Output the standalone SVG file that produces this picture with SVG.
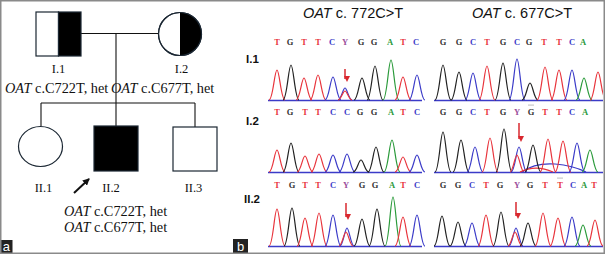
<svg xmlns="http://www.w3.org/2000/svg" width="605" height="255" viewBox="0 0 605 255">
<style>
.ped{stroke:#1b2733;stroke-width:1.2}
.ln{stroke:#111;stroke-width:1.1;fill:none}
.pt{font-family:"Liberation Serif","Times New Roman",serif;font-size:14.3px;fill:#111}
.pl{font-family:"Liberation Serif","Times New Roman",serif;font-size:12.5px;fill:#111;text-anchor:middle}
.tt{font-family:"Liberation Sans",Arial,sans-serif;font-size:14.5px;fill:#111}
.rl{font-family:"Liberation Sans",Arial,sans-serif;font-size:11.5px;font-weight:bold;fill:#111}
.bs{font-family:"Liberation Serif","Times New Roman",serif;font-size:8.5px;font-weight:bold;text-anchor:middle}
.pk path{fill:none;stroke-width:1.2}
.T{stroke:#e8343c}.G{stroke:#222}.C{stroke:#3b3bc8}.A{stroke:#2a9a3a}
.fT{fill:#e8343c}.fG{fill:#333}.fC{fill:#3b3bc8}.fA{fill:#2a9a3a}.fY{fill:#9b4f9b}
.bl{stroke:#3b3bc8;stroke-width:1.3}
.arr{stroke:#d9282f;stroke-width:1.5;marker-end:url(#ah)}
.lab{font-family:"Liberation Sans",Arial,sans-serif;font-size:13px;fill:#fff;text-anchor:middle}
</style>
<defs>
<marker id="ah" markerWidth="6" markerHeight="6" refX="3" refY="5" orient="auto-start-reverse" markerUnits="userSpaceOnUse" viewBox="0 0 6 6">
<path d="M0 0L6 0L3 6Z" fill="#d9282f" transform="rotate(-90 3 3)"/>
</marker>
<marker id="bk" markerWidth="7" markerHeight="7" refX="6" refY="3.5" orient="auto" markerUnits="userSpaceOnUse">
<path d="M0 0L7 3.5L0 7Z" fill="#111"/>
</marker>
<clipPath id="cp"><rect x="0" y="0" width="603" height="253"/></clipPath>
</defs>
<rect width="605" height="255" fill="#fff"/>

<!-- Panel a: pedigree -->
<g id="connectors">
<line class="ln" x1="81" y1="33.5" x2="158" y2="33.5"/>
<line class="ln" x1="116" y1="33.5" x2="116" y2="126"/>
<line class="ln" x1="41" y1="103" x2="195" y2="103"/>
<line class="ln" x1="41" y1="103" x2="41" y2="126"/>
<line class="ln" x1="195" y1="103" x2="195" y2="127"/>
<line x1="74" y1="193" x2="89" y2="179" stroke="#111" stroke-width="2" marker-end="url(#bk)"/>
</g>
<g id="I1">
<rect x="36" y="12" width="22.5" height="44" fill="#fff" class="ped"/>
<rect x="58.5" y="12" width="22.5" height="44" fill="#000" class="ped"/>
<text class="pl" x="58.5" y="73">I.1</text>
<text class="pt" x="5" y="93"><tspan font-style="italic">OAT</tspan> c.C722T, het</text>
</g>
<g id="I2">
<circle cx="180" cy="34" r="21.5" fill="#fff" class="ped"/>
<path d="M180 12.5A21.5 21.5 0 0 1 180 55.5Z" fill="#000"/>
<circle cx="180" cy="34" r="21.5" fill="none" class="ped"/>
<text class="pl" x="181.5" y="73">I.2</text>
<text class="pt" x="111" y="93"><tspan font-style="italic">OAT</tspan> c.C677T, het</text>
</g>
<g id="II1">
<ellipse cx="40.5" cy="146.5" rx="22" ry="20" fill="#fff" class="ped"/>
<text class="pl" x="43.5" y="192">II.1</text>
</g>
<g id="II2">
<rect x="94" y="126" width="44" height="45" fill="#000" class="ped"/>
<text class="pl" x="111" y="192">II.2</text>
<text class="pt" x="115.5" y="215.5" text-anchor="middle"><tspan font-style="italic">OAT</tspan> c.C722T, het</text>
<text class="pt" x="115.5" y="231.5" text-anchor="middle"><tspan font-style="italic">OAT</tspan> c.C677T, het</text>
</g>
<g id="II3">
<rect x="173" y="127" width="44" height="44" fill="#fff" class="ped"/>
<text class="pl" x="193.5" y="192">II.3</text>
</g>

<!-- Panel b: chromatograms -->
<g id="titles">
<text class="tt" x="303" y="18"><tspan font-style="italic">OAT</tspan> c. 772C&gt;T</text>
<text class="tt" x="472" y="18"><tspan font-style="italic">OAT</tspan> c. 677C&gt;T</text>
<text class="rl" x="246" y="63">I.1</text>
<text class="rl" x="246" y="125">I.2</text>
<text class="rl" x="244" y="203">II.2</text>
</g>

<g id="bases">
<text class="bs" y="45"><tspan class="fT" x="277">T</tspan><tspan class="fG" x="290">G</tspan><tspan class="fT" x="304">T</tspan><tspan class="fT" x="318">T</tspan><tspan class="fC" x="332">C</tspan><tspan class="fY" x="345">Y</tspan><tspan class="fG" x="361">G</tspan><tspan class="fG" x="374">G</tspan><tspan class="fA" x="390">A</tspan><tspan class="fT" x="403">T</tspan><tspan class="fC" x="416">C</tspan></text>
<text class="bs" y="45"><tspan class="fG" x="443">G</tspan><tspan class="fG" x="459">G</tspan><tspan class="fC" x="473">C</tspan><tspan class="fT" x="487">T</tspan><tspan class="fG" x="503">G</tspan><tspan class="fC" x="517">C</tspan><tspan class="fG" x="529">G</tspan><tspan class="fT" x="544">T</tspan><tspan class="fT" x="559">T</tspan><tspan class="fC" x="572">C</tspan><tspan class="fA" x="583">A</tspan></text>
<text class="bs" y="115"><tspan class="fT" x="277">T</tspan><tspan class="fG" x="290">G</tspan><tspan class="fT" x="305">T</tspan><tspan class="fT" x="318">T</tspan><tspan class="fC" x="333">C</tspan><tspan class="fC" x="347">C</tspan><tspan class="fG" x="360">G</tspan><tspan class="fG" x="374">G</tspan><tspan class="fA" x="391">A</tspan><tspan class="fT" x="403">T</tspan><tspan class="fC" x="417">C</tspan></text>
<text class="bs" y="115"><tspan class="fG" x="443">G</tspan><tspan class="fG" x="459">G</tspan><tspan class="fC" x="473">C</tspan><tspan class="fT" x="487">T</tspan><tspan class="fG" x="503">G</tspan><tspan class="fY" x="517">Y</tspan><tspan class="fG" x="531">G</tspan><tspan class="fT" x="545">T</tspan><tspan class="fT" x="559">T</tspan><tspan class="fC" x="572">C</tspan><tspan class="fA" x="585">A</tspan></text>
<text class="bs" y="188"><tspan class="fT" x="277">T</tspan><tspan class="fG" x="292">G</tspan><tspan class="fT" x="305">T</tspan><tspan class="fT" x="318">T</tspan><tspan class="fC" x="333">C</tspan><tspan class="fY" x="346">Y</tspan><tspan class="fG" x="362">G</tspan><tspan class="fG" x="375">G</tspan><tspan class="fA" x="392">A</tspan><tspan class="fT" x="403">T</tspan><tspan class="fC" x="417">C</tspan></text>
<text class="bs" y="188"><tspan class="fG" x="443">G</tspan><tspan class="fG" x="458">G</tspan><tspan class="fC" x="472">C</tspan><tspan class="fT" x="486">T</tspan><tspan class="fG" x="500">G</tspan><tspan class="fY" x="517">Y</tspan><tspan class="fG" x="530">G</tspan><tspan class="fT" x="545">T</tspan><tspan class="fT" x="560">T</tspan><tspan class="fC" x="573">C</tspan><tspan class="fA" x="584">A</tspan><tspan class="fT" x="594">T</tspan></text>
<g fill="#555"><circle cx="529" cy="105" r="0.5"/><circle cx="531" cy="105" r="0.5"/><circle cx="533" cy="105" r="0.5"/><circle cx="558" cy="178" r="0.5"/><circle cx="560" cy="178" r="0.5"/><circle cx="562" cy="178" r="0.5"/></g>
</g>

<g id="traces" class="pk" clip-path="url(#cp)">
<line class="bl" x1="268" y1="100.5" x2="422" y2="100.5"/>
<line class="bl" x1="434" y1="100.5" x2="603" y2="100.5"/>
<line class="bl" x1="268" y1="172.5" x2="422" y2="172.5"/>
<line class="bl" x1="434" y1="172.5" x2="603" y2="172.5"/>
<line class="bl" x1="268" y1="246.5" x2="422" y2="246.5"/>
<line class="bl" x1="434" y1="246.5" x2="603" y2="246.5"/>
<!-- row 1 left -->
<path class="T" d="M269 100C273 100 274.5 70 277 70C279.5 70 281 100 285 100"/>
<path class="G" d="M283 100C287 100 288.5 65 291 65C293.5 65 295 100 299 100"/>
<path class="T" d="M296 100C300 100 301.5 78 304 78C306.5 78 308 100 312 100"/>
<path class="T" d="M310 100C314 100 315.5 75 318 75C320.5 75 322 100 326 100"/>
<path class="C" d="M325 100C329 100 330.5 77 333 77C335.5 77 337 100 341 100"/>
<path class="C" d="M338 100C341 100 343 88 345 88C347 88 349 100 352 100"/>
<path class="T" d="M338 100C341 100 343 91 345 91C347 91 349 100 352 100"/>
<path class="G" d="M354 100C358 100 359.5 78 362 78C364.5 78 366 100 370 100"/>
<path class="G" d="M367 100C371 100 372.5 66 375 66C377.5 66 379 100 383 100"/>
<path class="A" d="M383 100C387 100 388.5 60 391 60C393.5 60 395 100 399 100"/>
<path class="T" d="M395 100C399 100 400.5 77 403 77C405.5 77 407 100 411 100"/>
<path class="C" d="M409 100C413 100 414.5 75 417 75C419.5 75 421 100 425 100"/>
<!-- row 1 right -->
<path class="G" d="M435 100C439 100 440.5 65 443 65C445.5 65 447 100 451 100"/>
<path class="G" d="M451 100C455 100 456.5 72 459 72C461.5 72 463 100 467 100"/>
<path class="C" d="M465 100C469 100 470.5 73 473 73C475.5 73 477 100 481 100"/>
<path class="T" d="M479 100C483 100 484.5 66 487 66C489.5 66 491 100 495 100"/>
<path class="G" d="M495 100C499 100 500.5 63 503 63C505.5 63 507 100 511 100"/>
<path class="C" d="M509 100C513 100 514.5 59 517 59C519.5 59 521 100 525 100"/>
<path class="G" d="M522 100C526 100 527.5 83 530 83C532.5 83 534 100 538 100"/>
<path class="T" d="M537 100C541 100 542.5 67 545 67C547.5 67 549 100 553 100"/>
<path class="T" d="M551 100C555 100 556.5 70 559 70C561.5 70 563 100 567 100"/>
<path class="C" d="M564 100C568 100 569.5 70 572 70C574.5 70 576 100 580 100"/>
<path class="A" d="M576 100C580 100 581.5 78 584 78C586.5 78 588 100 592 100"/>
<path class="T" d="M590 100C594 100 595.5 72 598 72C600.5 72 602 100 606 100"/>
<!-- row 2 left -->
<path class="T" d="M269 172C273 172 274.5 150 277 150C279.5 150 281 172 285 172"/>
<path class="G" d="M283 172C287 172 288.5 143 291 143C293.5 143 295 172 299 172"/>
<path class="T" d="M297 172C301 172 302.5 156 305 156C307.5 156 309 172 313 172"/>
<path class="T" d="M311 172C315 172 316.5 154 319 154C321.5 154 323 172 327 172"/>
<path class="C" d="M325 172C329 172 330.5 155 333 155C335.5 155 337 172 341 172"/>
<path class="C" d="M339 172C343 172 344.5 154 347 154C349.5 154 351 172 355 172"/>
<path class="G" d="M353 172C357 172 358.5 160 361 160C363.5 160 365 172 369 172"/>
<path class="G" d="M368 172C372 172 373.5 147 376 147C378.5 147 380 172 384 172"/>
<path class="A" d="M384 172C388 172 389.5 140 392 140C394.5 140 396 172 400 172"/>
<path class="T" d="M395 172C399 172 400.5 157 403 157C405.5 157 407 172 411 172"/>
<path class="C" d="M409 172C413 172 414.5 155 417 155C419.5 155 421 172 425 172"/>
<!-- row 2 right -->
<path class="G" d="M435 172C439 172 440.5 132 443 132C445.5 132 447 172 451 172"/>
<path class="G" d="M453 172C457 172 458.5 140 461 140C463.5 140 465 172 469 172"/>
<path class="C" d="M467 172C471 172 472.5 147 475 147C477.5 147 479 172 483 172"/>
<path class="T" d="M482 172C486 172 487.5 138 490 138C492.5 138 494 172 498 172"/>
<path class="G" d="M496 172C500 172 501.5 129 504 129C506.5 129 508 172 512 172"/>
<path class="C" d="M511 172C515 172 516.5 147 519 147C521.5 147 523 172 527 172"/>
<path class="T" d="M510 172C513 172 515 155 517 155C519 155 521 172 524 172"/>
<path class="C" d="M522 172C530 166 540 163 555 164C568 165 576 167 586 172"/>
<path class="T" d="M520 172C528 168 540 166 553 172"/>
<path class="G" d="M525 172C529 172 530.5 145 533 145C535.5 145 537 172 541 172"/>
<path class="T" d="M540 172C544 172 545.5 139 548 139C550.5 139 552 172 556 172"/>
<path class="T" d="M555 172C559 172 560.5 141 563 141C565.5 141 567 172 571 172"/>
<path class="C" d="M569 172C573 172 574.5 143 577 143C579.5 143 581 172 585 172"/>
<path class="A" d="M582 172C586 172 587.5 150 590 150C592.5 150 594 172 598 172"/>
<!-- row 3 left -->
<path class="T" d="M269 246C273 246 274.5 209 277 209C279.5 209 281 246 285 246"/>
<path class="G" d="M284 246C288 246 289.5 208 292 208C294.5 208 296 246 300 246"/>
<path class="T" d="M297 246C301 246 302.5 218 305 218C307.5 218 309 246 313 246"/>
<path class="T" d="M311 246C315 246 316.5 213 319 213C321.5 213 323 246 327 246"/>
<path class="C" d="M325 246C329 246 330.5 215 333 215C335.5 215 337 246 341 246"/>
<path class="C" d="M340 246C343 246 345 228 347 228C349 228 351 246 354 246"/>
<path class="T" d="M339 246C342 246 344 232 346 232C348 232 350 246 353 246"/>
<path class="G" d="M354 246C358 246 359.5 219 362 219C364.5 219 366 246 370 246"/>
<path class="G" d="M369 246C373 246 374.5 209 377 209C379.5 209 381 246 385 246"/>
<path class="A" d="M385 246C389 246 390.5 197 393 197C395.5 197 397 246 401 246"/>
<path class="T" d="M395 246C399 246 400.5 217 403 217C405.5 217 407 246 411 246"/>
<path class="C" d="M409 246C413 246 414.5 215 417 215C419.5 215 421 246 425 246"/>
<!-- row 3 right -->
<path class="G" d="M434 246C438 246 439.5 216 442 216C444.5 216 446 246 450 246"/>
<path class="G" d="M450 246C454 246 455.5 222 458 222C460.5 222 462 246 466 246"/>
<path class="C" d="M464 246C468 246 469.5 223 472 223C474.5 223 476 246 480 246"/>
<path class="T" d="M478 246C482 246 483.5 215 486 215C488.5 215 490 246 494 246"/>
<path class="G" d="M493 246C497 246 498.5 212 501 212C503.5 212 505 246 509 246"/>
<path class="C" d="M509 246C512 246 514 228 516 228C518 228 520 246 523 246"/>
<path class="T" d="M508 246C511 246 513 232 515 232C517 232 519 246 522 246"/>
<path class="G" d="M520 246C524 246 525.5 223 528 223C530.5 223 532 246 536 246"/>
<path class="T" d="M535 246C539 246 540.5 213 543 213C545.5 213 547 246 551 246"/>
<path class="T" d="M550 246C554 246 555.5 218 558 218C560.5 218 562 246 566 246"/>
<path class="C" d="M564 246C568 246 569.5 217 572 217C574.5 217 576 246 580 246"/>
<path class="A" d="M575 246C579 246 580.5 225 583 225C585.5 225 587 246 591 246"/>
<path class="T" d="M587 246C591 246 592.5 220 595 220C597.5 220 599 246 603 246"/>
</g>

<g id="arrows">
<line class="arr" x1="345" y1="69" x2="345" y2="79"/>
<line class="arr" x1="519" y1="123" x2="519" y2="139"/>
<line class="arr" x1="346" y1="203" x2="346" y2="217"/>
<line class="arr" x1="516" y1="202" x2="516" y2="216"/>
</g>

<g id="labels">
<rect x="0" y="240" width="12.5" height="13.5" fill="#222"/>
<text class="lab" x="6.3" y="251">a</text>
<rect x="233" y="239" width="15" height="14.5" fill="#222"/>
<text class="lab" x="240.5" y="251">b</text>
</g>
<rect x="0.75" y="0.75" width="603.5" height="252.5" fill="none" stroke="#8a8a8a" stroke-width="1.5"/>
</svg>
